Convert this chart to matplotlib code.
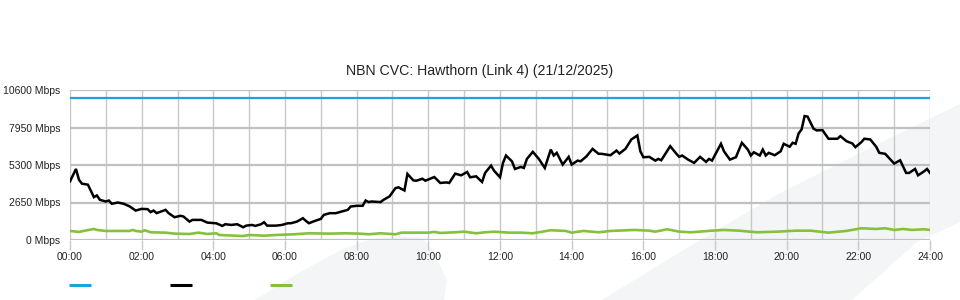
import matplotlib
matplotlib.use("Agg")
import matplotlib.pyplot as plt
from matplotlib.patches import Polygon
from matplotlib.lines import Line2D

plt.rcParams['font.family'] = ['Liberation Sans', 'DejaVu Sans']

title = "NBN CVC: Hawthorn (Link 4) (21/12/2025)"

capacity_times = ["00:00", "24:00"]
capacity_vals = [10000, 10000]

traffic_times = [
    "00:00", "00:10", "00:15", "00:20", "00:30", "00:40", "00:45", "00:50", "01:00", "01:05",
    "01:10", "01:20", "01:30", "01:40", "01:50", "02:00", "02:10", "02:15", "02:20", "02:25",
    "02:40", "02:45", "02:55", "03:05", "03:10", "03:20", "03:25", "03:40", "03:50", "04:05",
    "04:15", "04:20", "04:30", "04:40", "04:50", "04:55", "05:05", "05:10", "05:20", "05:25",
    "05:30", "05:45", "05:55", "06:05", "06:10", "06:20", "06:30", "06:35", "06:40", "06:50",
    "07:00", "07:05", "07:15", "07:25", "07:35", "07:45", "07:50", "08:00", "08:10", "08:15",
    "08:20", "08:25", "08:40", "08:45", "08:55", "09:05", "09:10", "09:20", "09:25", "09:35",
    "09:40", "09:50", "09:55", "10:10", "10:20", "10:30", "10:35", "10:45", "10:55", "11:05",
    "11:10", "11:20", "11:30", "11:35", "11:45", "11:50", "12:00", "12:05", "12:10", "12:20",
    "12:25", "12:35", "12:40", "12:45", "12:55", "13:05", "13:15", "13:25", "13:30", "13:35",
    "13:45", "13:55", "14:00", "14:10", "14:15", "14:25", "14:35", "14:45", "14:50", "15:05",
    "15:15", "15:20", "15:30", "15:40", "15:50", "15:55", "16:00", "16:10", "16:20", "16:25",
    "16:30", "16:45", "16:55", "17:00", "17:05", "17:15", "17:25", "17:35", "17:45", "17:50",
    "17:55", "18:10", "18:15", "18:25", "18:35", "18:45", "18:55", "19:00", "19:05", "19:15",
    "19:20", "19:25", "19:30", "19:40", "19:50", "19:55", "20:05", "20:10", "20:15", "20:20",
    "20:25", "20:30", "20:35", "20:45", "20:50", "21:00", "21:10", "21:25", "21:30", "21:40",
    "21:50", "21:55", "22:05", "22:10", "22:20", "22:30", "22:35", "22:45", "23:00", "23:10",
    "23:20", "23:25", "23:35", "23:40", "23:50", "23:55", "24:00",
]
traffic_vals = [
    4140, 5020, 4260, 3980, 3910, 3030, 3150, 2840, 2720, 2790,
    2560, 2650, 2560, 2370, 2080, 2200, 2180, 1970, 2080, 1900,
    2130, 1900, 1610, 1710, 1660, 1300, 1420, 1420, 1230, 1180,
    995, 1115, 1065, 1115, 900, 1015, 1065, 995, 1115, 1255,
    1015, 1015, 1065, 1185, 1185, 1300, 1540, 1350, 1185, 1350,
    1490, 1775, 1895, 1895, 2010, 2130, 2365, 2415, 2415, 2790,
    2680, 2720, 2680, 2840, 3080, 3670, 3720, 3500, 4670, 4210,
    4190, 4330, 4190, 4450, 4030, 4070, 4030, 4690, 4570, 4810,
    4430, 4500, 4100, 4740, 5260, 4900, 4430, 5450, 5970, 5560,
    5020, 5165, 5090, 5730, 6230, 5730, 5090, 6390, 5970, 6160,
    5330, 5875, 5330, 5610, 5560, 5920, 6440, 6090, 6090, 5990,
    6320, 6110, 6440, 7105, 7390, 6270, 5850, 5875, 5610, 5730,
    5635, 6630, 6110, 5875, 5970, 5680, 5450, 5875, 5520, 5730,
    5610, 6800, 6270, 5680, 5850, 6870, 6390, 5970, 6200, 5970,
    6390, 5970, 6160, 5990, 6270, 6800, 6590, 6870, 6800, 7530,
    7815, 8760, 8720, 7865, 7745, 7765, 7155, 7155, 7340, 6985,
    6820, 6560, 6910, 7155, 7105, 6585, 6160, 6090, 5400, 5635,
    4740, 4740, 5020, 4570, 4850, 5020, 4740,
]

upload_times = [
    "00:00", "00:15", "00:25", "00:40", "00:45", "01:00", "01:40", "01:45", "01:50", "02:00",
    "02:05", "02:15", "02:40", "02:55", "03:20", "03:35", "03:50", "04:05", "04:10", "04:50",
    "05:00", "05:25", "05:45", "06:15", "06:40", "07:15", "07:40", "08:05", "08:20", "08:40",
    "09:05", "09:15", "10:00", "10:10", "10:20", "10:45", "11:00", "11:20", "11:35", "11:50",
    "12:15", "12:35", "12:55", "13:25", "13:50", "14:00", "14:20", "14:45", "15:05", "15:45",
    "16:10", "16:20", "16:40", "17:00", "17:20", "17:55", "18:15", "18:40", "19:10", "19:45",
    "20:15", "20:40", "21:10", "21:40", "22:05", "22:30", "22:45", "23:00", "23:15", "23:30",
    "23:50", "24:00",
]
upload_vals = [
    640, 570, 660, 780, 710, 640, 640, 710, 640, 590,
    690, 545, 520, 450, 425, 520, 425, 475, 355, 280,
    355, 305, 355, 405, 475, 450, 475, 450, 405, 475,
    405, 520, 520, 570, 500, 545, 590, 475, 545, 590,
    520, 520, 475, 690, 640, 520, 640, 545, 640, 710,
    660, 590, 760, 590, 545, 660, 710, 660, 545, 590,
    660, 660, 520, 640, 830, 780, 830, 710, 780, 710,
    760, 710,
]

y_ticks = [0, 2650, 5300, 7950, 10600]
y_labels = ["0 Mbps", "2650 Mbps", "5300 Mbps", "7950 Mbps", "10600 Mbps"]
x_labels = ["00:00", "02:00", "04:00", "06:00", "08:00", "10:00", "12:00",
            "14:00", "16:00", "18:00", "20:00", "22:00", "24:00"]

BLUE = "#1fa3de"
BLACK = "#000000"
GREEN = "#85c23c"


def hours(ts):
    out = []
    for t in ts:
        h, m = t.split(":")
        out.append(int(h) + int(m) / 60.0)
    return out


W, H = 960, 300
fig = plt.figure(figsize=(W / 100, H / 100), dpi=100)
fig.patch.set_facecolor("white")

# faint background watermark shapes (pixel coords, origin top-left)
wm_color = "#f4f5f7"
shape1 = [(255, 300), (300, 272), (345, 248), (372, 239), (400, 236), (422, 238),
          (433, 250), (447, 280), (444, 300)]
shape2 = [(602, 300), (690, 246), (780, 193), (880, 143), (960, 104), (960, 222),
          (917, 242), (852, 300)]
for shp in (shape1, shape2):
    pts = [(x / W, 1 - y / H) for x, y in shp]
    fig.add_artist(Polygon(pts, closed=True, transform=fig.transFigure,
                           facecolor=wm_color, edgecolor="none", zorder=0))

ax = fig.add_axes([70 / W, 60 / H, 860 / W, 150 / H])
ax.patch.set_alpha(0)
ax.set_zorder(1)

ax.set_xlim(0, 24)
ax.set_ylim(0, 10600)

# grid
for h in range(0, 25):
    ax.axvline(h, color="#c8c8c8", lw=1.0, zorder=1)
for v in y_ticks:
    ax.axhline(v, color="#c0c0c0", lw=1.6, zorder=1)

ax.plot(hours(capacity_times), capacity_vals, color=BLUE, lw=1.6, zorder=3,
        solid_capstyle="butt")
ax.plot(hours(upload_times), upload_vals, color=GREEN, lw=1.9, zorder=3)
ax.plot(hours(traffic_times), traffic_vals, color=BLACK, lw=1.8, zorder=4,
        solid_joinstyle="miter")

for s in ax.spines.values():
    s.set_visible(False)

ax.set_yticks(y_ticks)
ax.set_yticklabels(y_labels)
ax.set_xticks(range(0, 25, 2))
ax.set_xticklabels(x_labels)
ax.tick_params(axis="y", length=0, pad=7, labelsize=7.5, labelcolor="#222222")
ax.tick_params(axis="x", length=7.5, width=1.0, color="#c8c8c8", pad=0.8,
               labelsize=7.5, labelcolor="#222222")

fig.text(0.5, 1 - 71 / H, title, fontsize=10.2, color="#222222",
         ha="center", va="center")

# legend swatches (no labels)
for x0, c in [(69, BLUE), (170, BLACK), (270, GREEN)]:
    fig.add_artist(Line2D([x0 / W, (x0 + 22) / W], [1 - 285 / H, 1 - 285 / H],
                          transform=fig.transFigure, color=c, lw=2.2,
                          solid_capstyle="butt"))

fig.savefig("out.png", dpi=100)
